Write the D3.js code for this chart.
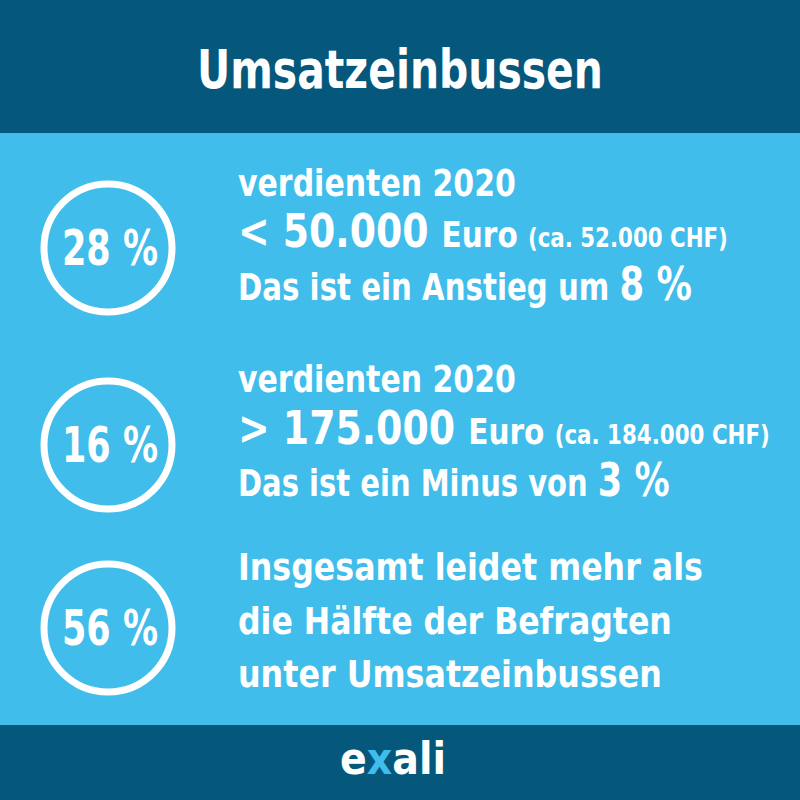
<!DOCTYPE html>
<html><head><meta charset="utf-8">
<script src="https://cdn.jsdelivr.net/npm/d3@7"></script>
<style>body{margin:0}svg{display:block}</style>
</head><body>
<script>
const title = "Umsatzeinbussen";
const percents = [28, 16, 56];
const lines = [
  [["verdienten 2020",38]],
  [["< 50.000 ",46],["Euro ",36],["(ca. 52.000 CHF)",26]],
  [["Das ist ein Anstieg um ",38],["8 %",46]],
  [["verdienten 2020",38]],
  [["> 175.000 ",46],["Euro ",36],["(ca. 184.000 CHF)",26]],
  [["Das ist ein Minus von ",38],["3 %",46]],
  [["Insgesamt leidet mehr als",38]],
  [["die Hälfte der Befragten",38]],
  [["unter Umsatzeinbussen",38]]
];
const lineWidths = [278,490,454,278,532,432,465,434,424];
const baselines = [196,247,300,392,444,496,580,634,687];
const circleY = [248,445,628];
const font = "'DejaVu Sans',sans-serif";
const svg = d3.select("body").append("svg").attr("width",800).attr("height",800);
svg.append("rect").attr("width",800).attr("height",800).attr("fill","#40bdea");
svg.append("rect").attr("width",800).attr("height",133).attr("fill","#05587c");
svg.append("rect").attr("y",725).attr("width",800).attr("height",75).attr("fill","#05587c");
function fit(sel, cx, target){
  const w = sel.node().getComputedTextLength();
  const k = target / w;
  sel.attr("transform",`translate(${cx},0) scale(${k},1) translate(${-cx},0)`);
}
const tt = svg.append("text").attr("x",400).attr("y",88).attr("text-anchor","middle").attr("fill","#fff")
  .attr("font-family",font).attr("font-weight","bold").attr("font-size",54).text(title);
fit(tt,400,406);
const g = svg.selectAll("g.c").data(percents).join("g").attr("transform",(d,i)=>`translate(108,${circleY[i]})`);
g.append("circle").attr("r",64).attr("fill","none").attr("stroke","#fff").attr("stroke-width",7);
g.append("text").attr("text-anchor","middle").attr("x",2).attr("y",17).attr("fill","#fff").attr("font-family",font)
  .attr("font-weight","bold").attr("font-size",50).text(d=>d+" %")
  .each(function(){fit(d3.select(this),2,96);});
lines.forEach((l,i)=>{
  const t = svg.append("text").attr("x",238).attr("y",baselines[i]).attr("fill","#fff")
    .attr("font-family",font).attr("font-weight","bold");
  l.forEach(([s,fs])=>t.append("tspan").attr("font-size",fs).text(s));
  fit(t,238,lineWidths[i]);
});
const logo = svg.append("text").attr("x",393).attr("y",774).attr("text-anchor","middle")
  .attr("font-family",font).attr("font-weight","bold").attr("font-size",44);
logo.append("tspan").attr("fill","#fff").text("e");
logo.append("tspan").attr("fill","#40bdea").text("x");
logo.append("tspan").attr("fill","#fff").text("ali");
fit(logo,393,106);
</script>
</body></html>
